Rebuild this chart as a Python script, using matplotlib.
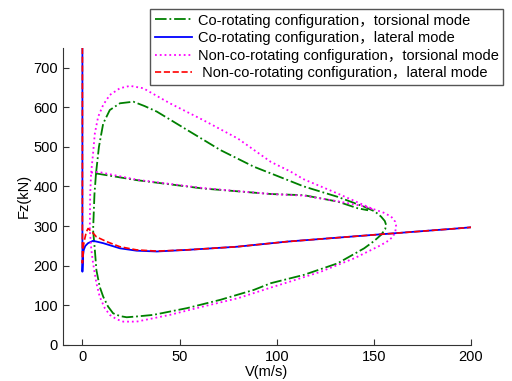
import numpy as np
import matplotlib
matplotlib.use("Agg")
import matplotlib.pyplot as plt

plt.rcParams["font.family"] = ["Liberation Sans", "Noto Sans CJK SC", "DejaVu Sans"]

# Co-rotating, torsional mode: closed loop + middle branch
co_tor_loop_v = [7.0, 7.2, 8.5, 10.7, 14.1, 19.3, 26.2, 32.0, 38.3, 53.8, 71.0, 88.2, 97.0,
                 114.0, 131.3, 145.0, 150.5, 153.7, 155.6, 156.3, 155.8, 153.7, 150.0,
                 145.0, 131.3, 114.0, 97.0, 88.2, 71.0, 53.8, 36.5, 28.0, 22.8, 19.3, 15.8,
                 13.2, 10.7, 8.9, 7.2, 6.4, 5.5, 6.2, 7.0]
co_tor_loop_f = [433, 442, 500, 559, 593, 610, 614, 603, 589, 543, 492, 450, 433,
                 400, 374, 349, 337, 324, 313, 303, 292, 278, 262,
                 244, 206, 177, 156, 139, 114, 93, 76, 72, 70, 73, 80,
                 97, 122, 147, 189, 240, 290, 380, 433]
co_tor_mid_v = [7.0, 28.0, 62.0, 97.0, 114.0, 131.3, 141.7, 147.0]
co_tor_mid_f = [433, 416, 395, 381, 378, 362, 345, 340]

# Non-co-rotating, torsional mode
nco_tor_loop_v = [4.5, 5.5, 6.4, 8.1, 10.7, 14.1, 19.3, 24.5, 31.3, 45.0, 62.0, 80.0, 97.0,
                  107.0, 114.0, 131.0, 148.6, 155.0, 158.9, 161.0, 161.5, 161.0, 159.8,
                  156.5, 152.0, 140.0, 122.7, 105.5, 97.0, 80.0, 62.0, 45.0, 27.9, 21.0,
                  17.6, 14.1, 11.5, 8.9, 7.2, 5.5, 4.6, 3.8, 4.0, 4.5]
nco_tor_loop_f = [435, 484, 534, 576, 606, 631, 648, 654, 648, 610, 568, 521, 462,
                  438, 418, 383, 345, 334, 324, 311, 299, 286, 273,
                  260, 248, 219, 185, 158, 145, 118, 97, 76, 59, 59,
                  65, 76, 93, 122, 156, 206, 240, 290, 380, 435]
nco_tor_mid_v = [4.5, 8.0, 28.0, 62.0, 97.0, 114.0, 131.0, 145.0, 150.0]
nco_tor_mid_f = [435, 437, 417, 396, 381, 377, 363, 350, 342]

# Co-rotating, lateral mode
co_lat_v = [0.0, 0.0, 0.3, 0.7, 1.5, 2.9, 5.5, 10.7, 19.3, 27.9, 38.3, 53.8, 79.6, 105.5,
            150.0, 190.0, 200.0]
co_lat_f = [750, 185, 225, 240, 250, 257, 263, 257, 244, 238, 236, 240, 248, 261,
            278, 293, 297]

# Non-co-rotating, lateral mode
nco_lat_v = [0.0, 0.0, 0.5, 1.2, 2.0, 2.9, 5.0, 7.2, 12.4, 19.3, 27.9, 38.3, 53.8, 79.6,
             105.5, 150.0, 190.0, 200.0]
nco_lat_f = [750, 207, 250, 268, 285, 294, 285, 273, 261, 248, 240, 237, 240, 248,
             261, 278, 293, 297]

labels = [
    "Co-rotating configuration，torsional mode",
    "Co-rotating configuration，lateral mode",
    "Non-co-rotating configuration，torsional mode",
    " Non-co-rotating configuration，lateral mode",
]


def join(v1, f1, v2, f2):
    v = np.concatenate([v1, [np.nan], v2])
    f = np.concatenate([f1, [np.nan], f2])
    return v, f


fig = plt.figure(figsize=(5.12, 3.81), dpi=100)
ax = fig.add_axes([0.123, 0.0945, 0.797, 0.78])

v, f = join(co_tor_loop_v, co_tor_loop_f, co_tor_mid_v, co_tor_mid_f)
ax.plot(v, f, "-.", color="#008000", lw=1.3, label=labels[0])
ax.plot(co_lat_v, co_lat_f, "-", color="#0000ff", lw=1.3, label=labels[1])
v, f = join(nco_tor_loop_v, nco_tor_loop_f, nco_tor_mid_v, nco_tor_mid_f)
ax.plot(v, f, ":", color="#ff00ff", lw=1.3, label=labels[2])
ax.plot(nco_lat_v, nco_lat_f, "--", color="#ff0000", lw=1.2, label=labels[3])

ax.set_xlim(-10, 200)
ax.set_ylim(0, 750)
ax.set_xticks([0, 50, 100, 150, 200])
ax.set_yticks(range(0, 701, 100))
ax.spines["top"].set_visible(False)
ax.spines["right"].set_visible(False)
for s in ("left", "bottom"):
    ax.spines[s].set_color("#333333")
ax.tick_params(direction="in", length=4, labelsize=10.5, colors="#333333",
               labelcolor="black")
ax.set_xlabel("V(m/s)", fontsize=10.5, labelpad=1)
ax.set_ylabel("Fz(kN)", fontsize=10.5, labelpad=2)

leg = fig.legend(loc="upper right", bbox_to_anchor=(0.982, 0.976), borderaxespad=0,
                 fontsize=10.5, handlelength=2.6, handletextpad=0.35,
                 labelspacing=0.25, borderpad=0.3, fancybox=False, framealpha=1)
leg.get_frame().set_edgecolor("#555555")
leg.get_frame().set_linewidth(1.0)

fig.savefig("out.png", dpi=100)
